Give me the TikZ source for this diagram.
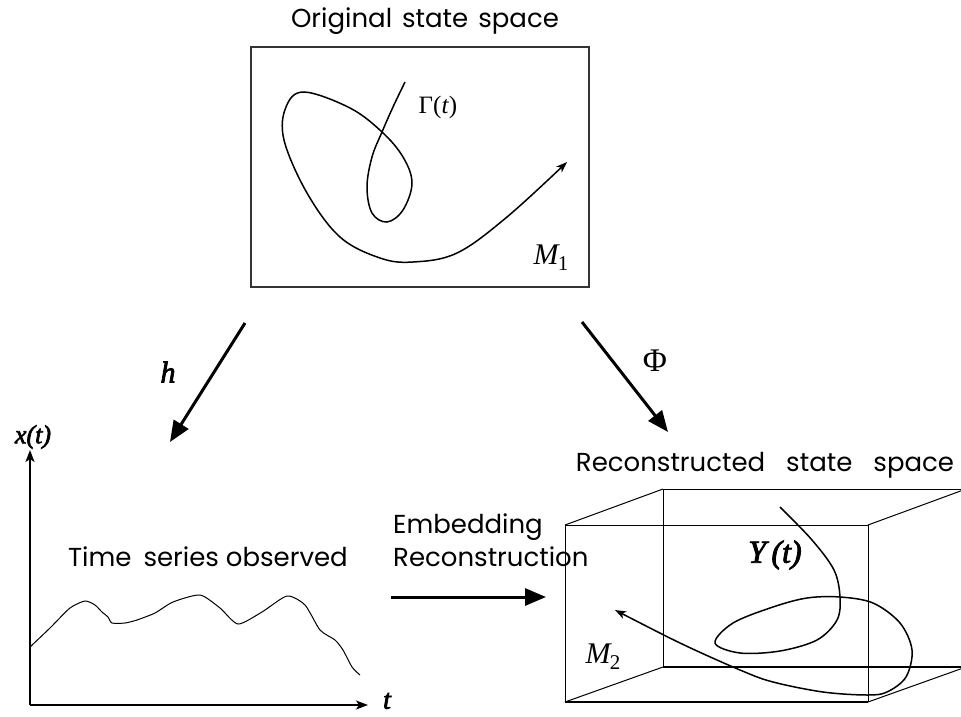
\documentclass[tikz,border=0pt]{standalone}
\usepackage{fontspec}
\newfontfamily\tms{Liberation Serif}
\newfontfamily\gth{Poppins}
\newcommand\bi{\itshape\addfontfeatures{FakeBold=2.5}}
\usetikzlibrary{arrows.meta}
\tikzset{
  lbl/.style={inner sep=0pt, font=\gth\fontsize{26}{30}\selectfont},
  mth/.style={inner sep=0pt},
  bigarrow/.style={line width=3pt, -{Triangle[length=21pt,width=17pt]}},
  axisarrow/.style={line width=1.5pt, -{Stealth[length=12pt,width=9pt,inset=3pt]}},
  curve/.style={line width=1.5pt, -{Stealth[length=11pt,width=8pt,inset=3pt]}},
  thin/.style={line width=1pt},
  series/.style={line width=1pt},
}
\begin{document}
\begin{tikzpicture}[x=1pt,y=-1pt]
\useasboundingbox (0,0) rectangle (961,717);
\clip (0,0) rectangle (961,717);

% ---- top: original state space
\node[lbl] (orig) at (425,21) {Original\hspace{10pt}state\hspace{10pt}space};
\node[draw=black!80, line width=1.3pt, minimum width=338pt, minimum height=240pt, inner sep=0pt] (box1) at (420,167) {};
\draw[curve] plot[smooth, tension=0.6] coordinates {
 (405,82) (393,107) (382,132) (372,157) (367,187) (372,213) (387,222)
 (403,210) (412,183) (403,157) (382,132) (350,108) (304,92) (286,107)
 (284,140) (307,193) (340,237) (380,258) (413,262) (457,253) (507,217) (567,162)};
\node[mth, font=\tms\fontsize{25}{28}\selectfont] (gam) at (438,107) {Γ(\textit{t})};
\node[mth, font=\tms\fontsize{30}{34}\selectfont] (m1) at (551,258) {\textit{M}\kern-2pt\raisebox{-6pt}{\fontsize{21}{24}\selectfont 1}};

% ---- mapping arrows
\coordinate (hs) at (245,323);
\coordinate (he) at (170,442);
\coordinate (ps) at (582,322);
\coordinate (pe) at (668,432);
\draw[bigarrow] (hs) -- (he);
\draw[bigarrow] (ps) -- (pe);
\node[mth, font=\tms\fontsize{30}{34}\selectfont] (hlab) at (168,372) {\bi h};
\node[mth, font=\tms\fontsize{33}{36}\selectfont] (philab) at (655,361) {Φ};

% ---- time series
\coordinate (O) at (30,705);
\coordinate (ytip) at (30,450);
\coordinate (xtip) at (368,705);
\draw[axisarrow] (O) -- (ytip);
\draw[axisarrow] (O) -- (xtip);
\node[mth, font=\tms\fontsize{26}{30}\selectfont] (xt) at (33,437) {\bi x(t)};
\node[mth, font=\tms\fontsize{28}{30}\selectfont] (tlab) at (387,701) {\bi t};
\node[lbl] (tso) at (208,557) {Time\hspace{12pt}series observed};
\draw[series] plot[smooth, tension=0.4] coordinates {
 (30,647) (50,628) (70,608) (85,601) (95,605) (102,612) (108,617) (112,623) (125,623)
 (137,620) (155,613) (173,602) (200,595) (220,608) (238,624) (262,612) (287,596)
 (305,605) (320,630) (335,640) (343,650) (352,667) (360,675)};

% ---- embedding
\node[lbl, anchor=west] (emb) at (393,527) {Embedding};
\node[lbl, anchor=west] (rec) at (393,557) {Reconstruction};
\coordinate (es) at (391,597);
\coordinate (ee) at (546,597);
\draw[bigarrow] (es) -- (ee);

% ---- reconstructed state space
\node[lbl] (rss) at (765,465) {Reconstructed\hspace{21pt}state\hspace{21pt}space};
\coordinate (f1) at (565,525);
\coordinate (f2) at (868,525);
\coordinate (f3) at (868,702);
\coordinate (f4) at (565,702);
\coordinate (b1) at (663,489);
\coordinate (b2) at (966,489);
\coordinate (b3) at (966,667);
\coordinate (b4) at (663,667);
\draw[thin] (f1) -- (f2) -- (f3);
\draw[thin] (f4) -- (f1);
\draw[line width=1.8pt] (f4) -- (f3);
\draw[thin] (b4) -- (b1) -- (b2);
\draw[line width=1.8pt] (b4) -- (b3);
\draw[thin] (f1) -- (b1) (f2) -- (b2) (f3) -- (b3) (f4) -- (b4);
\draw[curve] plot[smooth, tension=0.55] coordinates {
 (780,507) (812,540) (834,570) (840,597) (837,620) (817,640) (780,651) (740,653)
 (715,643) (733,623) (773,607) (807,598) (840,597) (873,603) (900,623) (912,650)
 (906,677) (887,692) (867,695) (823,692) (773,682) (740,670) (680,643) (615,610)};
\node[mth, font=\tms\fontsize{32}{36}\selectfont] (yt) at (775,555) {\bi Y\,(t)};
\node[mth, font=\tms\fontsize{30}{34}\selectfont] (m2) at (603,657) {\textit{M}\kern-2pt\raisebox{-6pt}{\fontsize{21}{24}\selectfont 2}};
\end{tikzpicture}
\end{document}
